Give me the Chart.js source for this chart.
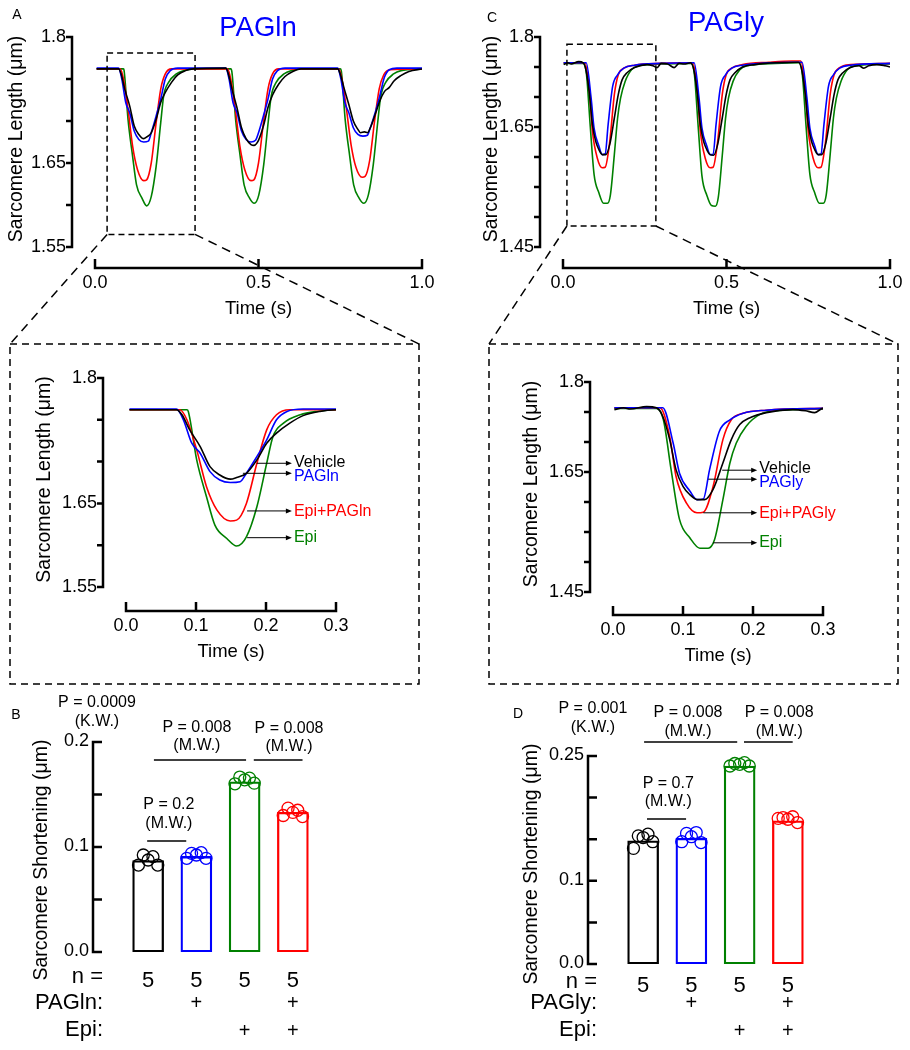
<!DOCTYPE html>
<html>
<head>
<meta charset="utf-8">
<script src="https://cdn.jsdelivr.net/npm/chart.js@4.4.1/dist/chart.umd.min.js"></script>
<style>
  body { margin: 0; background: #fff; }
  #wrap { position: relative; width: 910px; height: 1050px; }
  #wrap canvas { position: absolute; left: 0; top: 0; }
</style>
</head>
<body>
<div id="wrap">
  <canvas id="glnTrace" width="910" height="1050"></canvas>
  <canvas id="glyTrace" width="910" height="1050"></canvas>
  <canvas id="glnZoom" width="910" height="1050"></canvas>
  <canvas id="glyZoom" width="910" height="1050"></canvas>
  <canvas id="glnBar" width="910" height="1050"></canvas>
  <canvas id="glyBar" width="910" height="1050"></canvas>
</div>
<script>
const FONT = "'Liberation Sans', Arial, Helvetica, sans-serif";
const BLACK = '#000000', BLUE = '#0000ff', RED = '#ff0000', GREEN = '#008000';

// sarcomere length traces, [time (s), length (µm)]
const glnVehicle = [
  [0.005,1.762],[0.072,1.762],[0.080,1.756],[0.091,1.738],[0.106,1.718],[0.120,1.694],[0.134,1.684],[0.149,1.679],[0.158,1.681],[0.172,1.686],[0.187,1.702],[0.201,1.722],[0.215,1.734],[0.234,1.746],[0.253,1.755],[0.277,1.760],[0.301,1.762],
  [0.400,1.763],[0.408,1.756],[0.419,1.738],[0.434,1.716],[0.448,1.692],[0.462,1.679],[0.477,1.672],[0.486,1.671],[0.500,1.677],[0.515,1.694],[0.529,1.716],[0.543,1.731],[0.562,1.744],[0.581,1.753],[0.605,1.759],[0.630,1.762],
  [0.742,1.762],[0.750,1.756],[0.761,1.740],[0.776,1.720],[0.790,1.700],[0.804,1.690],[0.812,1.686],[0.824,1.687],[0.833,1.686],[0.842,1.692],[0.857,1.708],[0.871,1.724],[0.885,1.735],[0.900,1.740],[0.915,1.748],[0.935,1.754],[0.960,1.759],[1.000,1.762]
];
const glnPag = [
  [0.005,1.763],[0.072,1.763],[0.082,1.750],[0.094,1.722],[0.106,1.710],[0.120,1.688],[0.134,1.678],[0.149,1.675],[0.163,1.676],[0.172,1.686],[0.187,1.706],[0.201,1.726],[0.215,1.750],[0.230,1.760],[0.253,1.763],
  [0.400,1.763],[0.410,1.750],[0.422,1.722],[0.434,1.710],[0.448,1.688],[0.462,1.678],[0.477,1.675],[0.491,1.677],[0.500,1.686],[0.515,1.706],[0.529,1.726],[0.543,1.750],[0.558,1.760],[0.581,1.763],
  [0.742,1.763],[0.752,1.750],[0.764,1.722],[0.776,1.710],[0.790,1.692],[0.804,1.684],[0.819,1.682],[0.833,1.683],[0.842,1.692],[0.857,1.710],[0.871,1.730],[0.885,1.752],[0.900,1.761],[0.923,1.763],[1.000,1.763]
];
const glnEpiPag = [
  [0.005,1.762],[0.077,1.762],[0.087,1.750],[0.101,1.714],[0.115,1.670],[0.130,1.642],[0.149,1.629],[0.158,1.630],[0.172,1.650],[0.187,1.698],[0.201,1.738],[0.215,1.756],[0.234,1.762],
  [0.405,1.762],[0.415,1.750],[0.429,1.714],[0.443,1.670],[0.458,1.642],[0.477,1.629],[0.486,1.630],[0.500,1.650],[0.515,1.698],[0.529,1.738],[0.543,1.756],[0.562,1.762],
  [0.745,1.762],[0.755,1.750],[0.769,1.714],[0.783,1.672],[0.798,1.645],[0.817,1.633],[0.826,1.634],[0.840,1.653],[0.855,1.700],[0.869,1.738],[0.883,1.755],[0.902,1.761],[1.000,1.762]
];
const glnEpi = [
  [0.005,1.762],[0.087,1.762],[0.089,1.760],[0.101,1.702],[0.115,1.658],[0.127,1.624],[0.144,1.608],[0.158,1.599],[0.172,1.610],[0.187,1.646],[0.201,1.698],[0.210,1.730],[0.225,1.746],[0.249,1.756],[0.272,1.760],[0.301,1.762],
  [0.415,1.762],[0.418,1.760],[0.430,1.702],[0.444,1.658],[0.456,1.624],[0.473,1.608],[0.487,1.602],[0.501,1.612],[0.516,1.648],[0.530,1.700],[0.539,1.730],[0.554,1.746],[0.578,1.756],[0.601,1.760],[0.630,1.762],
  [0.750,1.762],[0.753,1.760],[0.765,1.702],[0.779,1.658],[0.791,1.624],[0.808,1.608],[0.822,1.602],[0.836,1.612],[0.851,1.648],[0.865,1.700],[0.874,1.730],[0.889,1.746],[0.913,1.756],[0.936,1.760],[1.000,1.762]
];

const glyVehicle = [
  [0.002,1.754],[0.015,1.757],[0.025,1.755],[0.048,1.759],[0.062,1.757],[0.071,1.743],[0.081,1.704],[0.090,1.654],[0.100,1.626],[0.110,1.612],[0.120,1.604],[0.131,1.604],[0.143,1.621],[0.157,1.665],[0.169,1.704],[0.181,1.729],[0.195,1.740],[0.219,1.749],[0.257,1.754],[0.275,1.752],[0.288,1.749],[0.300,1.756],
  [0.320,1.755],[0.340,1.749],[0.355,1.756],[0.370,1.755],[0.390,1.757],[0.401,1.743],[0.411,1.704],[0.420,1.654],[0.430,1.626],[0.440,1.612],[0.450,1.604],[0.461,1.603],[0.473,1.621],[0.487,1.665],[0.499,1.704],[0.511,1.729],[0.525,1.740],[0.549,1.750],[0.587,1.754],[0.620,1.756],[0.650,1.757],
  [0.720,1.758],[0.731,1.743],[0.741,1.704],[0.750,1.654],[0.760,1.626],[0.770,1.612],[0.780,1.604],[0.791,1.604],[0.803,1.621],[0.817,1.665],[0.829,1.704],[0.841,1.729],[0.855,1.740],[0.879,1.749],[0.905,1.752],[0.920,1.748],[0.935,1.752],[0.960,1.754],[0.985,1.752],[1.000,1.750]
];
const glyPag = [
  [0.002,1.757],[0.071,1.757],[0.086,1.698],[0.095,1.648],[0.110,1.618],[0.120,1.604],[0.129,1.605],[0.138,1.654],[0.152,1.718],[0.167,1.737],[0.186,1.748],[0.219,1.753],[0.300,1.756],
  [0.401,1.757],[0.416,1.698],[0.425,1.648],[0.440,1.618],[0.450,1.604],[0.459,1.604],[0.468,1.654],[0.482,1.718],[0.497,1.737],[0.516,1.748],[0.549,1.753],[0.630,1.757],[0.700,1.758],
  [0.731,1.758],[0.746,1.698],[0.755,1.648],[0.770,1.618],[0.780,1.604],[0.789,1.605],[0.798,1.654],[0.812,1.718],[0.827,1.737],[0.846,1.748],[0.879,1.753],[1.000,1.756]
];
const glyEpiPag = [
  [0.002,1.757],[0.067,1.757],[0.081,1.709],[0.090,1.643],[0.105,1.598],[0.120,1.582],[0.129,1.583],[0.143,1.626],[0.157,1.704],[0.169,1.737],[0.186,1.748],[0.219,1.753],[0.300,1.756],
  [0.397,1.757],[0.411,1.709],[0.420,1.643],[0.435,1.598],[0.450,1.582],[0.459,1.583],[0.473,1.626],[0.487,1.704],[0.499,1.737],[0.516,1.748],[0.549,1.754],[0.630,1.758],[0.700,1.760],
  [0.727,1.760],[0.741,1.709],[0.750,1.643],[0.765,1.598],[0.780,1.582],[0.789,1.583],[0.803,1.626],[0.817,1.704],[0.829,1.737],[0.846,1.749],[0.879,1.754],[1.000,1.756]
];
const glyEpi = [
  [0.002,1.756],[0.062,1.756],[0.072,1.737],[0.083,1.654],[0.095,1.571],[0.110,1.540],[0.124,1.523],[0.136,1.523],[0.145,1.537],[0.157,1.604],[0.167,1.665],[0.176,1.698],[0.190,1.726],[0.210,1.746],[0.233,1.752],[0.300,1.755],
  [0.392,1.756],[0.402,1.737],[0.413,1.654],[0.425,1.568],[0.440,1.536],[0.454,1.519],[0.466,1.518],[0.475,1.533],[0.487,1.602],[0.497,1.664],[0.506,1.698],[0.520,1.726],[0.540,1.745],[0.563,1.752],[0.650,1.756],
  [0.722,1.757],[0.732,1.737],[0.743,1.654],[0.755,1.571],[0.770,1.540],[0.784,1.523],[0.796,1.523],[0.805,1.537],[0.817,1.604],[0.827,1.665],[0.836,1.698],[0.850,1.726],[0.870,1.746],[0.893,1.752],[1.000,1.755]
];

// sarcomere shortening (µm)
const glnGroups = ['Vehicle', 'PAGln', 'Epi', 'Epi+PAGln'];
const glnBars = [0.087, 0.091, 0.162, 0.133];
const glnPoints = [
  [0.0924, 0.0908, 0.0876, 0.0828, 0.0828],
  [0.0939, 0.0946, 0.0924, 0.0892, 0.0892],
  [0.1666, 0.1656, 0.1640, 0.1602, 0.1608],
  [0.1370, 0.1350, 0.1330, 0.1300, 0.1290]
];
const glyGroups = ['Vehicle', 'PAGly', 'Epi', 'Epi+PAGly'];
const glyBars = [0.148, 0.151, 0.238, 0.172];
const glyPoints = [
  [0.154, 0.156, 0.152, 0.139, 0.147],
  [0.157, 0.158, 0.153, 0.147, 0.146],
  [0.241, 0.242, 0.240, 0.238, 0.238],
  [0.176, 0.177, 0.174, 0.175, 0.170]
];
const nPerGroup = [5, 5, 5, 5];
const pagRow = ['', '+', '', '+'];
const epiRow = ['', '', '+', '+'];

// ticks
const glnLenTicks = [1.55, 1.6, 1.65, 1.7, 1.75, 1.8];
const glnLenLabels = ['1.55', '', '1.65', '', '', '1.8'];
const glyLenTicks = [1.45, 1.5, 1.55, 1.6, 1.65, 1.7, 1.75, 1.8];
const glyLenLabels = ['1.45', '', '', '', '1.65', '', '', '1.8'];
const fullTimeTicks = [0, 0.5, 1.0];
const fullTimeLabels = ['0.0', '0.5', '1.0'];
const zoomTimeTicks = [0, 0.1, 0.2, 0.3];
const zoomTimeLabels = ['0.0', '0.1', '0.2', '0.3'];
const glnShortTicks = [0, 0.05, 0.1, 0.15, 0.2];
const glnShortLabels = ['0.0', '', '0.1', '', '0.2'];
const glyShortTicks = [0, 0.05, 0.1, 0.15, 0.2, 0.25];
const glyShortLabels = ['0.0', '', '0.1', '', '', '0.25'];

const JITTER = [-0.1, 0.1, 0, -0.2, 0.2];
const GROUP_COLORS = [BLACK, BLUE, GREEN, RED];

const pad = a => ({ left: a[0], top: a[1], right: 910 - a[2], bottom: 1050 - a[3] });

function text(ctx, str, x, y, size, color, align) {
  ctx.font = size + 'px ' + FONT;
  ctx.fillStyle = color || BLACK;
  ctx.textAlign = align || 'center';
  ctx.textBaseline = 'middle';
  ctx.fillText(str, x, y);
}

function vText(ctx, str, x, y, size) {
  ctx.save();
  ctx.translate(x, y);
  ctx.rotate(-Math.PI / 2);
  text(ctx, str, 0, 0, size);
  ctx.restore();
}

function dashedRect(ctx, l, t, r, b, dash) {
  ctx.setLineDash(dash);
  ctx.strokeRect(l, t, r - l, b - t);
  ctx.setLineDash([]);
}

function traceDecor(d) {
  return {
    id: 'traceDecor',
    afterDraw(chart) {
      const { ctx, chartArea: a } = chart;
      const x = chart.scales.x, y = chart.scales.y;
      ctx.save();
      ctx.strokeStyle = BLACK;
      ctx.lineWidth = 2.5;
      const ax = a.left - d.yGap;
      const ay = a.bottom + d.xGap;
      const x0 = x.getPixelForValue(x.min), x1 = x.getPixelForValue(x.max);
      ctx.beginPath();
      ctx.moveTo(ax, a.top - 1.25);
      ctx.lineTo(ax, a.bottom + 1.25);
      d.yTicks.forEach(v => {
        const py = y.getPixelForValue(v);
        ctx.moveTo(ax, py);
        ctx.lineTo(ax - 6, py);
      });
      ctx.moveTo(x0 - 1.25, ay);
      ctx.lineTo(x1 + 1.25, ay);
      d.xTicks.forEach(v => {
        const px = x.getPixelForValue(v);
        ctx.moveTo(px, ay);
        ctx.lineTo(px, ay - 9);
      });
      ctx.stroke();

      d.yTicks.forEach((v, i) => {
        if (d.yLabels[i]) text(ctx, d.yLabels[i], ax - 6, y.getPixelForValue(v), 18, BLACK, 'right');
      });
      d.xTicks.forEach((v, i) => text(ctx, d.xLabels[i], x.getPixelForValue(v), ay + 15, 18));
      text(ctx, 'Time (s)', (x0 + x1) / 2, ay + 41, 18.5);
      vText(ctx, 'Sarcomere Length (\u03bcm)', ax - d.titleGap, (a.top + a.bottom) / 2 - 3, 19.5);

      if (d.title) text(ctx, d.title[0], d.title[1], d.title[2], 27.5, BLUE);
      if (d.letter) text(ctx, d.letter[0], d.letter[1], d.letter[2], 14);

      // dashed box marking the zoomed window
      if (d.zoomBox) {
        const zb = d.zoomBox;
        ctx.lineWidth = 1.5;
        dashedRect(ctx, x.getPixelForValue(zb[0]), y.getPixelForValue(zb[3]),
          x.getPixelForValue(zb[1]), y.getPixelForValue(zb[2]), [6, 4]);
      }

      // inset frame + connectors back to the source box
      if (d.frame) {
        const f = d.frame, s = d.source;
        ctx.lineWidth = 1.5;
        dashedRect(ctx, f[0], f[1], f[2], f[3], [7, 5]);
        ctx.setLineDash([9, 6]);
        ctx.beginPath();
        ctx.moveTo(s.left, s.bottom);
        ctx.lineTo(f[0], f[1]);
        ctx.moveTo(s.right, s.bottom);
        ctx.lineTo(f[2], f[1]);
        ctx.stroke();
        ctx.setLineDash([]);
      }

      (d.arrows || []).forEach(ar => {
        const py = y.getPixelForValue(ar.v);
        const p0 = x.getPixelForValue(ar.t0), p1 = x.getPixelForValue(d.arrowEnd);
        ctx.strokeStyle = BLACK;
        ctx.fillStyle = BLACK;
        ctx.lineWidth = 1;
        ctx.beginPath();
        ctx.moveTo(p0, py);
        ctx.lineTo(p1 - 4, py);
        ctx.stroke();
        ctx.beginPath();
        ctx.moveTo(p1, py);
        ctx.lineTo(p1 - 6, py - 2.5);
        ctx.lineTo(p1 - 6, py + 2.5);
        ctx.closePath();
        ctx.fill();
        text(ctx, ar.text, p1 + 2, py + ar.dy, 16, ar.color, 'left');
      });
      ctx.restore();
    }
  };
}

function makeTrace(id, area, xMax, yRange, series, decor) {
  return new Chart(document.getElementById(id), {
    type: 'line',
    data: {
      datasets: series.map(s => ({
        data: s[0].map(p => ({ x: p[0], y: p[1] })),
        borderColor: s[1],
        borderWidth: 1.6,
        pointRadius: 0,
        fill: false,
        cubicInterpolationMode: 'monotone'
      }))
    },
    options: {
      responsive: false,
      animation: false,
      events: [],
      layout: { padding: pad(area) },
      scales: {
        x: { type: 'linear', min: 0, max: xMax, display: false },
        y: { type: 'linear', min: yRange[0], max: yRange[1], display: false }
      },
      plugins: { legend: { display: false }, tooltip: { enabled: false } }
    },
    plugins: [traceDecor(decor)]
  });
}

function boxPixels(chart, zb) {
  const x = chart.scales.x, y = chart.scales.y;
  return { left: x.getPixelForValue(zb[0]), right: x.getPixelForValue(zb[1]), bottom: y.getPixelForValue(zb[2]) };
}

function barDecor(d) {
  return {
    id: 'barDecor',
    afterDraw(chart) {
      const { ctx, chartArea: a } = chart;
      const x = chart.scales.x, y = chart.scales.y;
      ctx.save();
      ctx.strokeStyle = BLACK;
      ctx.lineWidth = 2.5;
      const ax = a.left - d.yGap;
      ctx.beginPath();
      ctx.moveTo(ax, a.top - 1.25);
      ctx.lineTo(ax, a.bottom + 1.25);
      d.yTicks.forEach(v => {
        const py = y.getPixelForValue(v);
        ctx.moveTo(ax, py);
        ctx.lineTo(ax + 9, py);
      });
      ctx.stroke();
      d.yTicks.forEach((v, i) => {
        if (d.yLabels[i]) text(ctx, d.yLabels[i], ax - 4, y.getPixelForValue(v) - 1, 18, BLACK, 'right');
      });
      vText(ctx, 'Sarcomere Shortening (\u03bcm)', ax - d.titleGap, d.titleY, 19.5);
      text(ctx, d.letter[0], d.letter[1], d.letter[2], 14);

      d.rows.forEach(r => {
        text(ctx, r.label, ax + d.rowGap, r.y, 22, BLACK, 'right');
        r.values.forEach((v, i) => {
          if (v !== '') text(ctx, String(v), x.getPixelForValue(i), r.vy, r.size);
        });
      });

      ctx.lineWidth = 1.5;
      d.tests.forEach(t => {
        const py = y.getPixelForValue(t.y);
        if (t.x0 !== undefined) {
          ctx.beginPath();
          ctx.moveTo(x.getPixelForValue(t.x0), py);
          ctx.lineTo(x.getPixelForValue(t.x1), py);
          ctx.stroke();
        }
        const tx = x.getPixelForValue(t.tx);
        text(ctx, t.p, tx, py - t.dy1, 16);
        text(ctx, t.test, tx, py - t.dy2, 16);
      });
      ctx.restore();
    }
  };
}

function makeBars(id, area, yMax, groups, bars, points, decor) {
  // one linear x axis: group i sits at x = i
  const datasets = [{
    type: 'bar',
    label: 'mean',
    data: bars.map((v, i) => ({ x: i, y: v, group: groups[i] })),
    backgroundColor: 'rgba(255,255,255,0)',
    borderColor: GROUP_COLORS,
    borderWidth: 1.6,
    borderSkipped: false,
    barThickness: 31,
    order: 2
  }];
  points.forEach((vals, i) => datasets.push({
    type: 'scatter',
    label: groups[i],
    order: 1,
    data: vals.map((v, k) => ({ x: i + JITTER[k], y: v })),
    pointRadius: 6,
    pointBorderWidth: 1.3,
    pointBorderColor: GROUP_COLORS[i],
    pointBackgroundColor: 'rgba(0,0,0,0)',
    showLine: false
  }));
  return new Chart(document.getElementById(id), {
    type: 'bar',
    data: { datasets },
    options: {
      responsive: false,
      animation: false,
      events: [],
      layout: { padding: pad(area) },
      scales: {
        x: { type: 'linear', min: -0.5, max: 3.5, offset: false, display: false },
        y: { type: 'linear', min: 0, max: yMax, display: false }
      },
      plugins: { legend: { display: false }, tooltip: { enabled: false } }
    },
    plugins: [barDecor(decor)]
  });
}

// ---- A: PAGln traces
const glnSeries = [[glnVehicle, BLACK], [glnPag, BLUE], [glnEpiPag, RED], [glnEpi, GREEN]];
const glnZoomWin = [0.037, 0.306, 1.565, 1.781];
const glnChart = makeTrace('glnTrace', [95, 37, 422, 247], 1.0, [1.55, 1.8], glnSeries, {
  yGap: 23, xGap: 21, titleGap: 55,
  yTicks: glnLenTicks, yLabels: glnLenLabels, xTicks: fullTimeTicks, xLabels: fullTimeLabels,
  title: ['PAGln', 258, 28], letter: ['A', 17, 15], zoomBox: glnZoomWin
});
makeTrace('glnZoom', [126, 378, 336, 587], 0.3, [1.55, 1.8], glnSeries, {
  yGap: 23, xGap: 24, titleGap: 58,
  yTicks: glnLenTicks, yLabels: glnLenLabels, xTicks: zoomTimeTicks, xLabels: zoomTimeLabels,
  frame: [10, 344, 419, 684], source: boxPixels(glnChart, glnZoomWin),
  arrowEnd: 0.237,
  arrows: [
    { text: 'Vehicle', color: BLACK, t0: 0.187, v: 1.698, dy: -1 },
    { text: 'PAGln', color: BLUE, t0: 0.167, v: 1.686, dy: 3 },
    { text: 'Epi+PAGln', color: RED, t0: 0.173, v: 1.641, dy: 1 },
    { text: 'Epi', color: GREEN, t0: 0.173, v: 1.609, dy: 0 }
  ]
});

// ---- C: PAGly traces
const glySeries = [[glyVehicle, BLACK], [glyPag, BLUE], [glyEpiPag, RED], [glyEpi, GREEN]];
const glyZoomWin = [0.012, 0.284, 1.485, 1.788];
const glyChart = makeTrace('glyTrace', [563, 37, 890, 247], 1.0, [1.45, 1.8], glySeries, {
  yGap: 23, xGap: 21, titleGap: 48,
  yTicks: glyLenTicks, yLabels: glyLenLabels, xTicks: fullTimeTicks, xLabels: fullTimeLabels,
  title: ['PAGly', 726, 23], letter: ['C', 492, 18], zoomBox: glyZoomWin
});
makeTrace('glyZoom', [613, 382, 823, 592], 0.3, [1.45, 1.8], glySeries, {
  yGap: 23, xGap: 23, titleGap: 58,
  yTicks: glyLenTicks, yLabels: glyLenLabels, xTicks: zoomTimeTicks, xLabels: zoomTimeLabels,
  frame: [489, 344, 898, 684], source: boxPixels(glyChart, glyZoomWin),
  arrowEnd: 0.206,
  arrows: [
    { text: 'Vehicle', color: BLACK, t0: 0.156, v: 1.653, dy: -2 },
    { text: 'PAGly', color: BLUE, t0: 0.136, v: 1.638, dy: 3 },
    { text: 'Epi+PAGly', color: RED, t0: 0.129, v: 1.582, dy: 1 },
    { text: 'Epi', color: GREEN, t0: 0.143, v: 1.532, dy: 0 }
  ]
});

// ---- B: PAGln shortening
makeBars('glnBar', [124, 742, 317, 952], 0.2, glnGroups, glnBars, glnPoints, {
  yGap: 31, titleGap: 51, titleY: 860, rowGap: 10,
  yTicks: glnShortTicks, yLabels: glnShortLabels, letter: ['B', 16, 715],
  rows: [
    { label: 'n =', y: 977, values: nPerGroup, vy: 981, size: 22 },
    { label: 'PAGln:', y: 1003, values: pagRow, vy: 1003, size: 20 },
    { label: 'Epi:', y: 1030, values: epiRow, vy: 1031, size: 20 }
  ],
  tests: [
    { p: 'P = 0.0009', test: '(K.W.)', tx: -1.06, y: 0.2, dy1: 39, dy2: 20 },
    { p: 'P = 0.2', test: '(M.W.)', x0: -0.02, x1: 0.79, tx: 0.43, y: 0.1057, dy1: 36, dy2: 17 },
    { p: 'P = 0.008', test: '(M.W.)', x0: 0.12, x1: 2.03, tx: 1.01, y: 0.1829, dy1: 32, dy2: 14 },
    { p: 'P = 0.008', test: '(M.W.)', x0: 2.19, x1: 3.2, tx: 2.92, y: 0.1829, dy1: 31, dy2: 13 }
  ]
});

// ---- D: PAGly shortening
makeBars('glyBar', [619, 756, 812, 964], 0.25, glyGroups, glyBars, glyPoints, {
  yGap: 31, titleGap: 56, titleY: 864, rowGap: 9,
  yTicks: glyShortTicks, yLabels: glyShortLabels, letter: ['D', 518, 714],
  rows: [
    { label: 'n =', y: 982, values: nPerGroup, vy: 986, size: 22 },
    { label: 'PAGly:', y: 1003, values: pagRow, vy: 1003, size: 20 },
    { label: 'Epi:', y: 1030, values: epiRow, vy: 1031, size: 20 }
  ],
  tests: [
    { p: 'P = 0.001', test: '(K.W.)', tx: -1.04, y: 0.25, dy1: 47, dy2: 28 },
    { p: 'P = 0.7', test: '(M.W.)', x0: 0.08, x1: 0.89, tx: 0.52, y: 0.1743, dy1: 35, dy2: 17 },
    { p: 'P = 0.008', test: '(M.W.)', x0: 0.02, x1: 1.95, tx: 0.93, y: 0.2668, dy1: 29, dy2: 10 },
    { p: 'P = 0.008', test: '(M.W.)', x0: 2.09, x1: 3.1, tx: 2.82, y: 0.2668, dy1: 29, dy2: 10 }
  ]
});
</script>
</body>
</html>
